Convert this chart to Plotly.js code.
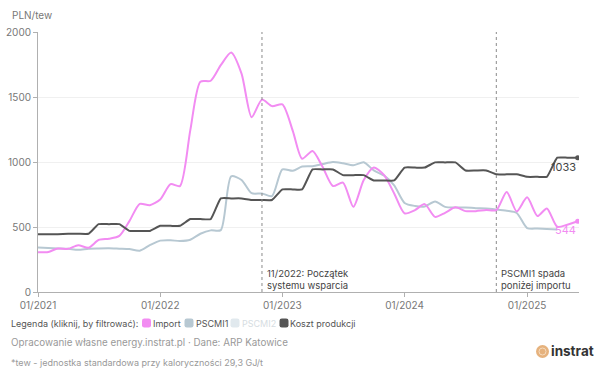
<!DOCTYPE html>
<html>
<head>
<meta charset="utf-8">
<script src="https://cdn.plot.ly/plotly-3.0.1.min.js"></script>
<style>
  html, body { margin: 0; padding: 0; background: #fff; }
  #chart { width: 606px; height: 370px; }
</style>
</head>
<body>
<div id="chart"></div>
<script>
// ---- data (monthly, from 01/2021) ----
const startYear = 2021;
const monthCount = 54; // 01/2021 .. 06/2025
const months = [];
for (let i = 0; i < monthCount; i++) {
  const y = startYear + Math.floor(i / 12);
  const m = (i % 12) + 1;
  months.push(y + '-' + String(m).padStart(2, '0') + '-01');
}

const importPrice = [
  305, 308, 335, 332, 360, 340, 400, 410, 432, 545, 678, 668,
  712, 830, 815, 1245, 1618, 1625, 1745, 1842, 1680, 1345, 1480, 1430,
  1443, 1240, 1025, 1085, 963, 815, 842, 655, 861, 958, 899, 758,
  605, 630, 676, 578, 609, 651, 622, 622, 630, 630, 770, 620,
  728, 584, 643, 502, 518, 544
];

const pscmi1 = [
  342, 338, 335, 332, 325, 333, 335, 336, 333, 330, 318, 360,
  395, 398, 392, 402, 448, 474, 476, 890, 862, 760, 758, 738,
  943, 932, 965, 968, 984, 1000, 990, 975, 998, 935, 895, 820,
  685, 662, 658, 697, 655, 650, 650, 645, 643, 635, 625, 608,
  492, 488, 484, 480
];

const productionCost = [
  445, 445, 445, 448, 448, 448, 522, 522, 522, 470, 470, 470,
  509, 509, 509, 561, 561, 561, 720, 720, 720, 708, 708, 708,
  789, 789, 789, 943, 943, 943, 899, 899, 899, 858, 858, 858,
  957, 957, 957, 997, 997, 997, 935, 935, 935, 905, 905, 905,
  886, 886, 886, 1033, 1033, 1033
];

const yTicks = [0, 500, 1000, 1500, 2000];
const seriesNames = ['Import', 'PSCMI1', 'PSCMI2', 'Koszt produkcji'];
const events = [
  { date: '2022-11-01', text: '11/2022: Początek<br>systemu wsparcia' },
  { date: '2024-10-01', text: 'PSCMI1 spada<br>poniżej importu' }
];

// ---- styles ----
const colors = {
  Import: '#f28cf2',
  PSCMI1: '#b7c8d2',
  PSCMI2: '#e1e9ee',
  Koszt: '#555555'
};
const FONT = 'Inter, "Open Sans", "DejaVu Sans", sans-serif';

// plot area in pixels
const L = 38, R = 27, T = 32, B = 78, W = 606, H = 370;
const PW = W - L - R, PH = H - T - B;
const px = x => (x - L) / PW;
const py = y => (H - B - y) / PH;

const last = a => a[a.length - 1];
const lastDate = a => months[a.length - 1];

const traces = [
  {
    x: months.slice(0, pscmi1.length), y: pscmi1, name: seriesNames[1],
    type: 'scatter', mode: 'lines',
    line: { color: colors.PSCMI1, width: 2, shape: 'spline', smoothing: 0.7 },
    showlegend: false
  },
  {
    x: months.slice(0, importPrice.length), y: importPrice, name: seriesNames[0],
    type: 'scatter', mode: 'lines',
    line: { color: colors.Import, width: 2, shape: 'spline', smoothing: 0.7 },
    showlegend: false
  },
  {
    x: months.slice(0, productionCost.length), y: productionCost, name: seriesNames[3],
    type: 'scatter', mode: 'lines',
    line: { color: colors.Koszt, width: 2, shape: 'spline', smoothing: 0.4 },
    showlegend: false
  },
  {
    x: [lastDate(importPrice)], y: [last(importPrice)], type: 'scatter', mode: 'markers',
    marker: { color: colors.Import, size: 5 }, showlegend: false, hoverinfo: 'skip'
  },
  {
    x: [lastDate(productionCost)], y: [last(productionCost)], type: 'scatter', mode: 'markers',
    marker: { color: colors.Koszt, size: 5 }, showlegend: false, hoverinfo: 'skip'
  }
];

const shapes = [];
const annotations = [];

// event lines + labels
events.forEach(ev => {
  shapes.push({
    type: 'line', xref: 'x', yref: 'paper', x0: ev.date, x1: ev.date, y0: 0, y1: 1,
    line: { color: '#8a8a8a', width: 1, dash: 'dot' }
  });
  annotations.push({
    xref: 'x', yref: 'paper', x: ev.date, y: py(266), xanchor: 'left', yanchor: 'top',
    xshift: 3, showarrow: false, align: 'left', text: ev.text,
    font: { family: FONT, size: 9.5, color: '#444' }
  });
});

// end labels
annotations.push({
  xref: 'x', yref: 'y', x: lastDate(productionCost), y: last(productionCost),
  xanchor: 'right', yanchor: 'top', yshift: 0, showarrow: false,
  text: String(last(productionCost)), font: { family: FONT, size: 11, color: '#444' }
});
annotations.push({
  xref: 'x', yref: 'y', x: lastDate(importPrice), y: last(importPrice),
  xanchor: 'right', yanchor: 'top', yshift: 0, showarrow: false,
  text: String(last(importPrice)), font: { family: FONT, size: 11, color: colors.Import }
});

// y-axis unit label
annotations.push({
  xref: 'paper', yref: 'paper', x: px(10), y: py(15), xanchor: 'left', yanchor: 'middle',
  showarrow: false, text: 'PLN/tew', font: { family: FONT, size: 10, color: '#777' }
});

// manual legend
function roundSquare(cx, cy, color) {
  const s = 4.5, r = 2.3, a = s - r;
  return {
    type: 'path', xref: 'paper', yref: 'paper',
    xsizemode: 'pixel', ysizemode: 'pixel', xanchor: px(cx), yanchor: py(cy),
    path: `M ${-s},${-a} Q ${-s},${-s} ${-a},${-s} L ${a},${-s} Q ${s},${-s} ${s},${-a} L ${s},${a} Q ${s},${s} ${a},${s} L ${-a},${s} Q ${-s},${s} ${-s},${a} Z`,
    fillcolor: color, line: { width: 0 }
  };
}
const legendY = 323;
annotations.push({
  xref: 'paper', yref: 'paper', x: px(9), y: py(legendY), xanchor: 'left', yanchor: 'middle',
  showarrow: false, text: 'Legenda (kliknij, by filtrować):',
  font: { family: FONT, size: 9, color: '#555' }
});
const legendItems = [
  { name: seriesNames[0], color: colors.Import, sq: 146.5, tx: 151, txt: '#555' },
  { name: seriesNames[1], color: colors.PSCMI1, sq: 189, tx: 194, txt: '#555' },
  { name: seriesNames[2], color: colors.PSCMI2, sq: 235, tx: 240, txt: '#d6dde2' },
  { name: seriesNames[3], color: colors.Koszt, sq: 284, tx: 288, txt: '#555' }
];
legendItems.forEach(it => {
  shapes.push(roundSquare(it.sq, legendY, it.color));
  annotations.push({
    xref: 'paper', yref: 'paper', x: px(it.tx), y: py(legendY), xanchor: 'left', yanchor: 'middle',
    showarrow: false, text: it.name, font: { family: FONT, size: 9, color: it.txt }
  });
});

// footer
annotations.push({
  xref: 'paper', yref: 'paper', x: px(9), y: py(342), xanchor: 'left', yanchor: 'middle',
  showarrow: false, text: 'Opracowanie własne energy.instrat.pl · Dane: ARP Katowice',
  font: { family: FONT, size: 9.8, color: '#999' }
});
annotations.push({
  xref: 'paper', yref: 'paper', x: px(9), y: py(362), xanchor: 'left', yanchor: 'middle',
  showarrow: false, text: '*tew - jednostka standardowa przy kaloryczności 29,3 GJ/t',
  font: { family: FONT, size: 9, color: '#999' }
});

// logo
shapes.push({
  type: 'circle', xref: 'paper', yref: 'paper', xsizemode: 'pixel', ysizemode: 'pixel',
  xanchor: px(542.5), yanchor: py(351.5), x0: -6.5, x1: 6.5, y0: -6.5, y1: 6.5,
  fillcolor: '#e6b27d', line: { width: 0 }
});
shapes.push({
  type: 'circle', xref: 'paper', yref: 'paper', xsizemode: 'pixel', ysizemode: 'pixel',
  xanchor: px(542.5), yanchor: py(351.5), x0: -3.5, x1: 3.5, y0: -3.5, y1: 3.5,
  fillcolor: 'rgba(0,0,0,0)', line: { width: 1, color: '#f6dcc0' }
});
annotations.push({
  xref: 'paper', yref: 'paper', x: px(548.5), y: py(351), xanchor: 'left', yanchor: 'middle',
  showarrow: false, text: '<b>instrat</b>', font: { family: FONT, size: 13.5, color: '#333' }
});

const layout = {
  width: W, height: H,
  margin: { l: L, r: R, t: T, b: B, pad: 0 },
  paper_bgcolor: '#fff', plot_bgcolor: '#fff',
  font: { family: FONT, size: 10, color: '#777' },
  showlegend: false,
  xaxis: {
    type: 'date',
    range: ['2021-01-01', '2025-06-05'],
    tick0: '2021-01-01', dtick: 'M12', tickformat: '%m/%Y',
    showgrid: false, zeroline: false,
    showline: true, linecolor: '#b0b0b0', linewidth: 1,
    ticks: 'outside', ticklen: 4, tickcolor: '#b0b0b0',
    tickfont: { family: FONT, size: 10, color: '#777' }
  },
  yaxis: {
    range: [0, 2000],
    tickvals: yTicks,
    showgrid: true, gridcolor: '#f0f0f0', gridwidth: 1,
    zeroline: false,
    showline: true, linecolor: '#b0b0b0', linewidth: 1,
    ticks: 'outside', ticklen: 4, tickcolor: '#b0b0b0',
    tickfont: { family: FONT, size: 10, color: '#777' }
  },
  shapes: shapes,
  annotations: annotations
};

Plotly.newPlot('chart', traces, layout, { displayModeBar: false, staticPlot: false });
</script>
</body>
</html>
